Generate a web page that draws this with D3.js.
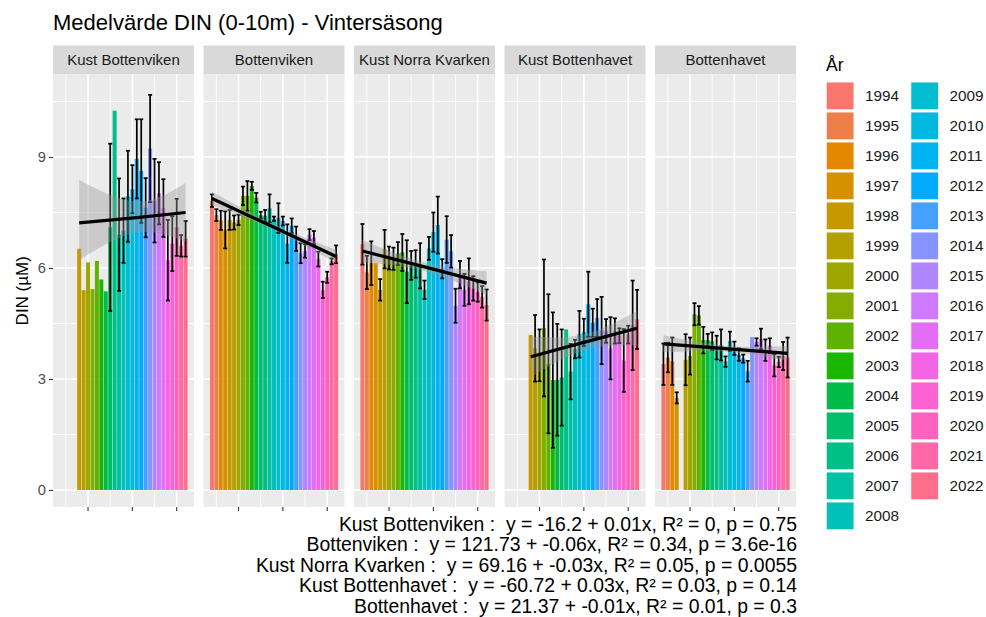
<!DOCTYPE html>
<html>
<head>
<meta charset="utf-8">
<script src="https://cdn.jsdelivr.net/npm/d3@7"></script>
<style>
  html, body { margin: 0; padding: 0; background: #ffffff; }
  svg { display: block; font-family: "Liberation Sans", Arial, sans-serif; }
</style>
</head>
<body>
<svg id="chart" width="986" height="617"></svg>
<script>
// ---- data -------------------------------------------------------------
const years = [1994, 1995, 1996, 1997, 1998, 1999, 2000, 2001, 2002, 2003,
               2004, 2005, 2006, 2007, 2008, 2009, 2010, 2011, 2012, 2013,
               2014, 2015, 2016, 2017, 2018, 2019, 2020, 2021, 2022];

const areas = ["Kust Bottenviken", "Bottenviken", "Kust Norra Kvarken",
               "Kust Bottenhavet", "Bottenhavet"];

// mean DIN (µM) per year, null = no data
const meanKustBottenviken = [null, null, null, null, 6.52, 5.40, 6.15, 5.43, 6.19, 5.69,
  5.37, 7.10, 10.25, 6.90, 7.01, 7.94, 8.13, 8.95, 8.62, 7.63,
  9.23, 7.82, 8.02, 7.62, 6.21, 6.66, 7.10, 6.60, 6.79];
const seKustBottenviken = [null, null, null, null, null, null, null, null, null, null,
  null, 2.26, null, 1.52, 0.87, 1.23, 0.65, 1.07, 1.40, 0.80,
  1.45, 1.13, 0.84, 0.78, 1.09, 0.74, 0.77, 0.29, 0.48];

const meanBottenviken = [7.82, 7.43, 7.29, 7.03, 7.30, 7.23, 7.30, 7.95, 7.95, 8.22,
  7.90, 7.43, 7.41, 7.61, 7.33, 7.35, 7.27, 6.66, 7.14, 6.79,
  6.40, 6.46, 6.90, 6.82, 6.24, 5.41, 5.75, 6.18, 6.37];
const seBottenviken = [0.17, 0.16, 0.26, 0.50, 0.27, 0.19, 0.14, 0.25, 0.40, 0.11,
  0.13, 0.09, 0.16, 0.38, 0.06, 0.40, 0.12, 0.52, 0.20, 0.33,
  0.27, 0.18, 0.15, 0.18, 0.20, 0.22, 0.15, 0.08, 0.24];

const meanKustNorraKvarken = [6.64, 5.88, 6.13, 6.13, 5.41, 6.51, 6.27, 6.25, 6.39, 6.42,
  5.90, 6.07, 6.11, 6.06, 5.41, 6.53, 6.97, 7.16, 5.98, 6.77,
  6.45, 4.98, 5.82, 5.41, 5.64, 5.45, 5.35, 5.22, 5.00];
const seKustNorraKvarken = [0.55, 0.45, 0.59, null, 0.29, 0.52, 0.31, 0.30, 0.31, 0.50,
  0.85, 0.39, 0.37, 0.61, 0.25, 0.31, 0.53, 0.77, 0.26, 0.63,
  0.44, 0.46, 0.37, 0.43, 0.62, 0.33, 0.26, 0.29, 0.42];

const meanKustBottenhavet = [null, null, null, null, 4.19, 3.83, 3.64, 4.38, 3.41, 2.97,
  2.98, 3.04, 4.34, 3.20, 3.81, 4.21, 4.26, 5.02, 4.52, 4.65,
  4.31, 4.30, 3.83, 4.30, 4.17, 3.50, 4.20, 4.45, 4.61];
const seKustBottenhavet = [null, null, null, null, null, 0.90, 0.70, 1.85, 1.88, 1.83,
  1.51, 1.30, null, 0.75, 0.25, 0.63, 0.37, 0.88, 0.38, 0.51,
  0.91, 0.32, 0.84, 0.34, 0.20, 0.85, 0.24, 1.21, 0.80];

const meanBottenhavet = [3.40, 3.58, 3.48, 2.49, null, 3.52, 3.62, 4.75, 4.72, 4.05,
  4.05, 4.02, 3.85, 3.92, 3.47, 4.02, 3.83, 3.66, 3.55, 3.21,
  4.13, 4.00, 4.08, 3.78, 3.90, 3.37, 3.46, 3.62, 3.58];
const seBottenhavet = [0.56, 0.40, 0.64, 0.15, null, 0.69, 0.50, 0.30, 0.25, 0.36,
  0.17, 0.24, 0.32, 0.42, 0.14, 0.26, 0.18, 0.17, 0.11, 0.28,
  null, 0.10, 0.28, 0.29, 0.20, 0.30, 0.14, 0.38, 0.54];

const means = [meanKustBottenviken, meanBottenviken, meanKustNorraKvarken,
               meanKustBottenhavet, meanBottenhavet];
const ses = [seKustBottenviken, seBottenviken, seKustNorraKvarken,
             seKustBottenhavet, seBottenhavet];

// linear trend per area: [first year, middle year, last year], fitted value and CI band
const trendYears = [[1998, 2011, 2022], [1994, 2008, 2022], [1994, 2008, 2022],
                    [1998, 2010, 2022], [1994, 2008, 2022]];
const trendFit   = [[7.22, 7.36, 7.50], [7.88, 7.10, 6.31], [6.46, 6.03, 5.59],
                    [3.60, 3.99, 4.37], [3.95, 3.82, 3.69]];
const trendLower = [[6.22, 6.95, 6.70], [7.70, 7.02, 6.13], [6.16, 5.91, 5.27],
                    [3.05, 3.77, 3.90], [3.72, 3.74, 3.49]];
const trendUpper = [[8.38, 7.80, 8.30], [8.06, 7.18, 6.49], [6.76, 6.15, 5.91],
                    [4.15, 4.21, 4.84], [4.18, 3.90, 3.89]];

const trendLabels = [
  "Kust Bottenviken :  y = -16.2 + 0.01x, R\u00B2 = 0, p = 0.75",
  "Bottenviken :  y = 121.73 + -0.06x, R\u00B2 = 0.34, p = 3.6e-16",
  "Kust Norra Kvarken :  y = 69.16 + -0.03x, R\u00B2 = 0.05, p = 0.0055",
  "Kust Bottenhavet :  y = -60.72 + 0.03x, R\u00B2 = 0.03, p = 0.14",
  "Bottenhavet :  y = 21.37 + -0.01x, R\u00B2 = 0.01, p = 0.3"
];

const yTicks = [0, 3, 6, 9];
const yMinor = [1.5, 4.5, 7.5, 10.5];
const xTicks = [2000, 2010, 2020];
const xMinor = [1995, 2005, 2015];

// ---- colours: default discrete hue palette (polar LUV, c = 100, l = 65) ----
function hclLuv(h, c, l) {
  const hr = h * Math.PI / 180;
  const U = c * Math.cos(hr), V = c * Math.sin(hr);
  const Xn = 95.047, Yn = 100, Zn = 108.883;
  const den = Xn + 15 * Yn + 3 * Zn;
  const un = 4 * Xn / den, vn = 9 * Yn / den;
  const Y = Yn * (l > 7.999592 ? Math.pow((l + 16) / 116, 3) : l / 903.3);
  const u = U / (13 * l) + un, v = V / (13 * l) + vn;
  const X = 9 * Y * u / (4 * v);
  const Z = -X / 3 - 5 * Y + 3 * Y / v;
  const lin = [
    ( 3.240479 * X - 1.537150 * Y - 0.498535 * Z) / Yn,
    (-0.969256 * X + 1.875992 * Y + 0.041556 * Z) / Yn,
    ( 0.055648 * X - 0.204043 * Y + 1.057311 * Z) / Yn
  ];
  const g = lin.map(t => {
    const s = t <= 0.0031308 ? 12.92 * t : 1.055 * Math.pow(t, 1 / 2.4) - 0.055;
    return Math.round(255 * Math.max(0, Math.min(1, s)));
  });
  return d3.rgb(g[0], g[1], g[2]).formatHex();
}
const palette = years.map((y, i) => hclLuv(15 + i * 360 / years.length, 100, 65));
const color = d3.scaleOrdinal().domain(years).range(palette);

// ---- layout -----------------------------------------------------------
const svg = d3.select("#chart");
const panelLeft0 = 53, panelStep = 150.5, panelW = 141;
const stripTop = 45.5, panelTop = 74.5, panelBottom = 507;

const y = d3.scaleLinear().domain([-0.46, 11.23]).range([panelBottom, panelTop]);

// title
svg.append("text")
  .attr("x", 53).attr("y", 30)
  .attr("font-size", 22).attr("fill", "#000")
  .text("Medelvärde DIN (0-10m) - Vintersäsong");

// y axis title
svg.append("text")
  .attr("transform", `translate(28,${(panelTop + panelBottom) / 2}) rotate(-90)`)
  .attr("text-anchor", "middle")
  .attr("font-size", 17).attr("fill", "#000")
  .text("DIN (µM)");

// y axis (left of first panel)
const yAxis = d3.axisLeft(y).tickValues(yTicks).tickSize(4).tickPadding(3);
const gy = svg.append("g").attr("transform", `translate(${panelLeft0},0)`).call(yAxis);
gy.select(".domain").remove();
gy.selectAll(".tick line").attr("stroke", "#333333").attr("stroke-width", 1.1);
gy.selectAll(".tick text").attr("font-size", 14.7).attr("fill", "#4D4D4D")
  .attr("font-family", "Liberation Sans, Arial, sans-serif");

areas.forEach((area, p) => {
  const left = panelLeft0 + p * panelStep;
  const x = d3.scaleLinear().domain([1992.1, 2023.9]).range([left, left + panelW]);
  const g = svg.append("g");

  // strip
  g.append("rect").attr("x", left).attr("y", stripTop)
    .attr("width", panelW).attr("height", panelTop - stripTop).attr("fill", "#D9D9D9");
  g.append("text").attr("x", left + panelW / 2).attr("y", (stripTop + panelTop) / 2 + 5.3)
    .attr("text-anchor", "middle").attr("font-size", 15).attr("fill", "#1A1A1A")
    .text(area);

  // panel background and grid
  g.append("rect").attr("x", left).attr("y", panelTop)
    .attr("width", panelW).attr("height", panelBottom - panelTop).attr("fill", "#EBEBEB");
  g.selectAll(".ymin").data(yMinor).join("line")
    .attr("x1", left).attr("x2", left + panelW)
    .attr("y1", d => y(d)).attr("y2", d => y(d))
    .attr("stroke", "#fff").attr("stroke-width", 0.8);
  g.selectAll(".xmin").data(xMinor).join("line")
    .attr("x1", d => x(d)).attr("x2", d => x(d))
    .attr("y1", panelTop).attr("y2", panelBottom)
    .attr("stroke", "#fff").attr("stroke-width", 0.8);
  g.selectAll(".ymaj").data(yTicks).join("line")
    .attr("x1", left).attr("x2", left + panelW)
    .attr("y1", d => y(d)).attr("y2", d => y(d))
    .attr("stroke", "#fff").attr("stroke-width", 1.6);
  g.selectAll(".xmaj").data(xTicks).join("line")
    .attr("x1", d => x(d)).attr("x2", d => x(d))
    .attr("y1", panelTop).attr("y2", panelBottom)
    .attr("stroke", "#fff").attr("stroke-width", 1.6);

  const rows = years.map((yr, i) => ({ year: yr, mean: means[p][i], se: ses[p][i] }))
    .filter(d => d.mean !== null);

  // bars
  const bw = 0.9;
  g.selectAll(".bar").data(rows).join("rect")
    .attr("x", d => x(d.year - bw / 2))
    .attr("width", d => x(d.year + bw / 2) - x(d.year - bw / 2))
    .attr("y", d => y(d.mean))
    .attr("height", d => y(0) - y(d.mean))
    .attr("fill", d => color(d.year));

  // error bars
  const eb = rows.filter(d => d.se !== null);
  const cw = 0.45;
  const ge = g.append("g").attr("stroke", "#000").attr("stroke-width", 1.7);
  ge.selectAll(".ev").data(eb).join("line")
    .attr("x1", d => x(d.year)).attr("x2", d => x(d.year))
    .attr("y1", d => y(d.mean - d.se)).attr("y2", d => y(d.mean + d.se));
  ge.selectAll(".et").data(eb).join("line")
    .attr("x1", d => x(d.year - cw)).attr("x2", d => x(d.year + cw))
    .attr("y1", d => y(d.mean + d.se)).attr("y2", d => y(d.mean + d.se));
  ge.selectAll(".eb").data(eb).join("line")
    .attr("x1", d => x(d.year - cw)).attr("x2", d => x(d.year + cw))
    .attr("y1", d => y(d.mean - d.se)).attr("y2", d => y(d.mean - d.se));

  // trend band and line
  const tr = trendYears[p].map((yr, i) => ({
    year: yr, fit: trendFit[p][i], lo: trendLower[p][i], hi: trendUpper[p][i]
  }));
  g.append("path").datum(tr)
    .attr("d", d3.area().curve(d3.curveNatural)
      .x(d => x(d.year)).y0(d => y(d.lo)).y1(d => y(d.hi)))
    .attr("fill", "#999999").attr("fill-opacity", 0.4);
  g.append("path").datum(tr)
    .attr("d", d3.line().x(d => x(d.year)).y(d => y(d.fit)))
    .attr("fill", "none").attr("stroke", "#000").attr("stroke-width", 3.2);

  // x ticks (unlabelled)
  g.selectAll(".xt").data(xTicks).join("line")
    .attr("x1", d => x(d)).attr("x2", d => x(d))
    .attr("y1", panelBottom).attr("y2", panelBottom + 4)
    .attr("stroke", "#333333").attr("stroke-width", 1.1);
});

// legend
const legend = svg.append("g");
legend.append("text").attr("x", 826).attr("y", 71)
  .attr("font-size", 17.5).attr("fill", "#000").text("År");
const perCol = 15;
years.forEach((yr, i) => {
  const col = Math.floor(i / perCol), row = i % perCol;
  const kx = 826 + col * 84.5, ky = 81.7 + row * 30;
  legend.append("rect").attr("x", kx).attr("y", ky).attr("width", 28.3).attr("height", 28.3)
    .attr("fill", "#F2F2F2");
  legend.append("rect").attr("x", kx + 0.8).attr("y", ky + 0.8).attr("width", 26.7).attr("height", 26.7)
    .attr("fill", color(yr));
  legend.append("text").attr("x", kx + 39).attr("y", ky + 14.15 + 5.3)
    .attr("font-size", 15.3).attr("fill", "#1A1A1A").text(yr);
});

// regression summary lines
svg.append("g").selectAll("text").data(trendLabels).join("text")
  .attr("x", 797).attr("y", (d, i) => 531 + i * 20.4)
  .attr("text-anchor", "end").attr("font-size", 19.4).attr("fill", "#000")
  .attr("xml:space", "preserve").style("white-space", "pre")
  .text(d => d);
</script>
</body>
</html>
